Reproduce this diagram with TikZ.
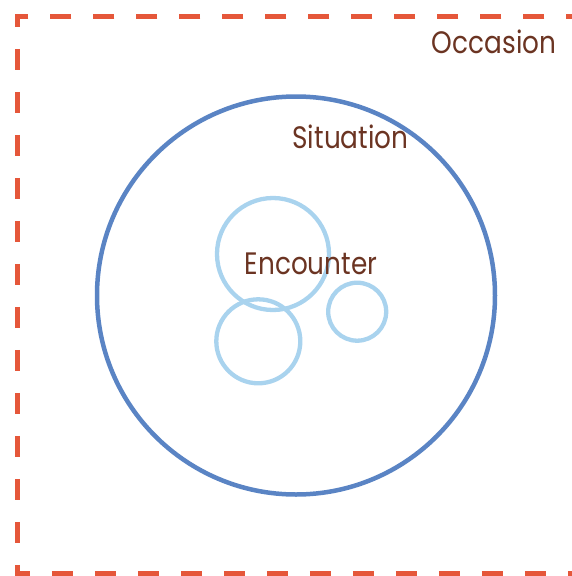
\documentclass[tikz,border=0pt]{standalone}
\usepackage{fontspec}
\usepackage{graphicx}
\setmainfont{Poppins}
\definecolor{occasionred}{HTML}{E5573A}
\definecolor{situationblue}{HTML}{5A84C4}
\definecolor{encounterblue}{HTML}{A9D3EE}
\definecolor{labelbrown}{HTML}{6B3422}
\newcommand{\lbltext}[1]{\scalebox{0.85}[1]{#1}}
\begin{document}
\begin{tikzpicture}[x=1pt, y=-1pt,
  ring/.style={draw, circle, inner sep=0pt, line width=4.5pt},
  bigring/.style={ring, draw=situationblue},
  smallring/.style={ring, draw=encounterblue, line width=4.3pt},
  frame/.style={draw=occasionred, line width=5pt, dash pattern=on 21.5pt off 21.5pt, dash phase=40.25pt},
  lbl/.style={anchor=base, inner sep=0pt, text=labelbrown, font=\fontsize{31}{31}\selectfont}]
\useasboundingbox (0,0) rectangle (572,576);
\clip (0,0) rectangle (572,576);
\draw[frame] (590,16.5) -- (17.5,16.5) -- (17.5,573.5) -- (590,573.5);
\node[bigring, minimum size=398pt] (situation) at (296,295.5) {};
\node[smallring, minimum size=112pt] (enc1) at (273,254) {};
\node[smallring, minimum size=84pt] (enc2) at (258.3,341.3) {};
\node[smallring, minimum size=58pt] (enc3) at (357.2,311.7) {};
\node[lbl] (occasionlbl) at (494,53.3) {\lbltext{Occasion}};
\node[lbl] (situationlbl) at (350.5,148.3) {\lbltext{Situation}};
\node[lbl] (encounterlbl) at (311,274.3) {\lbltext{Encounter}};
\end{tikzpicture}
\end{document}
